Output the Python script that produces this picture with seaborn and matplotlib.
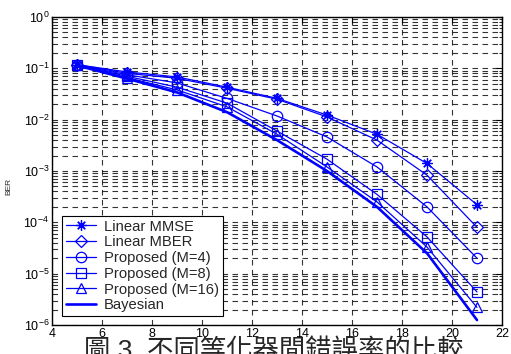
import numpy as np
import pandas as pd
import matplotlib
matplotlib.use('Agg')
import matplotlib.pyplot as plt
import seaborn as sns
from matplotlib.ticker import LogLocator, NullFormatter, MultipleLocator

# data
snr = [5, 7, 9, 11, 13, 15, 17, 19, 21]
ber_mmse = [0.118, 0.085, 0.068, 0.043, 0.026, 0.0123, 0.0052, 0.0014, 2.2e-4]
ber_mber = [0.118, 0.080, 0.064, 0.041, 0.025, 0.0113, 0.0040, 8.3e-4, 8.0e-5]
ber_m4 = [0.116, 0.075, 0.052, 0.026, 0.0118, 0.0046, 0.0012, 2.0e-4, 2.0e-5]
ber_m8 = [0.116, 0.070, 0.043, 0.021, 0.0060, 0.0017, 3.5e-4, 5.2e-5, 4.4e-6]
ber_m16 = [0.116, 0.066, 0.038, 0.0178, 0.0052, 0.0012, 2.5e-4, 3.3e-5, 2.2e-6]
ber_bayes = [0.114, 0.063, 0.034, 0.014, 0.0040, 0.0010, 2.0e-4, 2.5e-5, 1.25e-6]

labels = ['Linear MMSE', 'Linear MBER', 'Proposed (M=4)', 'Proposed (M=8)',
          'Proposed (M=16)', 'Bayesian']
series = [ber_mmse, ber_mber, ber_m4, ber_m8, ber_m16, ber_bayes]
markers = [(8, 2, 0), 'D', 'o', 's', '^', None]
msizes = [7.5, 6, 7.5, 7, 7.5, 0]

sns.set_style('white')
plt.rcParams['font.family'] = ['Liberation Sans', 'Noto Sans CJK TC', 'DejaVu Sans']

fig = plt.figure(figsize=(5.11, 3.54), dpi=100)
ax = fig.add_axes([52 / 511, 1 - 325 / 354, 450 / 511, 308 / 354])

blue = '#0000ff'
for lab, vals, mk, ms in zip(labels, series, markers, msizes):
    df = pd.DataFrame({'snr': snr, 'ber': vals})
    if mk is None:
        sns.lineplot(data=df, x='snr', y='ber', ax=ax, color=blue, lw=1.9, label=lab)
    else:
        sns.lineplot(data=df, x='snr', y='ber', ax=ax, color=blue, lw=0.9,
                     marker=mk, markersize=ms, markerfacecolor='none',
                     markeredgecolor=blue, markeredgewidth=0.9, label=lab)

ax.set_yscale('log')
ax.set_xlim(4, 22)
ax.set_ylim(1e-6, 1)
ax.xaxis.set_major_locator(MultipleLocator(2))
ax.yaxis.set_major_locator(LogLocator(base=10, numticks=10))
ax.yaxis.set_minor_locator(LogLocator(base=10, subs=np.arange(2, 10), numticks=20))
ax.yaxis.set_minor_formatter(NullFormatter())

ax.grid(True, which='major', axis='both', color='black', ls=(0, (5, 4)), lw=0.8, alpha=0.8)
ax.grid(True, which='minor', axis='y', color='black', ls=(0, (5, 4)), lw=0.8, alpha=0.8)

ax.tick_params(which='both', direction='in', top=True, right=True, labelsize=9,
               colors='black', pad=2)
ax.tick_params(which='major', length=4, width=0.8)
ax.tick_params(which='minor', length=2, width=0.6)
for sp in ax.spines.values():
    sp.set_color('black')
    sp.set_linewidth(1.0)

ax.set_xlabel('')
ax.set_ylabel('BER', fontsize=6)
ax.yaxis.set_label_coords(-0.087, 0.45)

leg = ax.legend(loc='lower left', bbox_to_anchor=(0.022, 0.029), fontsize=10.6,
                frameon=True, fancybox=False, edgecolor='black', framealpha=1,
                borderpad=0.25, labelspacing=0.12, handlelength=2.1,
                handletextpad=0.5, borderaxespad=0)
leg.get_frame().set_linewidth(0.8)

fig.text(0.535, 1 - 339 / 354, '圖 3. 不同等化器間錯誤率的比較', fontsize=19,
         ha='center', va='top')

fig.savefig('out.png', dpi=100)
